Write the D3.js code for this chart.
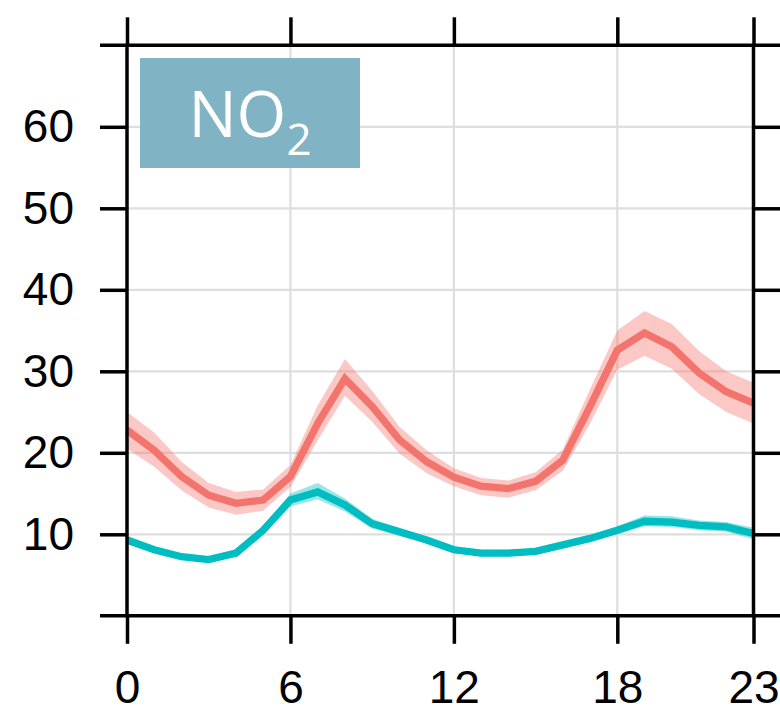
<!DOCTYPE html>
<html>
<head>
<meta charset="utf-8">
<script src="https://cdn.jsdelivr.net/npm/d3@7"></script>
<style>
  body { margin: 0; background: #fff; }
</style>
</head>
<body>
<div id="chart"></div>
<script>
// hours of the day
var hours = d3.range(0, 24);

// red series: mean and ribbon (lower / upper)
var redMean  = [22.8, 20.3, 17.1, 14.8, 13.8, 14.2, 17.1, 23.6, 29.1, 25.7, 21.6, 18.9,
                17.0, 15.9, 15.6, 16.5, 19.1, 25.7, 32.6, 34.7, 33.0, 29.8, 27.5, 26.1];
var redLow   = [20.5, 18.3, 15.4, 13.3, 12.4, 12.9, 15.8, 21.5, 27.0, 23.8, 19.9, 17.5,
                15.9, 14.8, 14.5, 15.4, 17.8, 23.6, 30.2, 31.9, 30.3, 27.2, 25.0, 23.6];
var redHigh  = [25.0, 22.5, 18.9, 16.3, 15.2, 15.5, 18.5, 25.8, 31.5, 27.6, 23.2, 20.3,
                18.1, 16.9, 16.6, 17.6, 20.4, 27.8, 35.0, 37.4, 35.8, 32.5, 30.0, 28.6];

// teal series: mean and ribbon (lower / upper)
var tealMean = [9.3, 8.1, 7.25, 6.9, 7.7, 10.5, 14.2, 15.2, 13.6, 11.3, 10.3, 9.3,
                8.1, 7.7, 7.7, 7.9, 8.7, 9.5, 10.5, 11.6, 11.5, 11.1, 10.9, 10.1];
var tealLow  = [8.8, 7.7, 6.9, 6.5, 7.3, 10.0, 13.4, 14.3, 12.8, 10.7, 9.8, 8.9,
                7.7, 7.3, 7.3, 7.5, 8.3, 9.1, 10.0, 11.0, 10.9, 10.5, 10.3, 9.4];
var tealHigh = [9.8, 8.5, 7.6, 7.3, 8.1, 11.0, 15.0, 16.3, 14.4, 11.9, 10.8, 9.7,
                8.5, 8.1, 8.1, 8.3, 9.1, 9.9, 11.0, 12.3, 12.2, 11.7, 11.5, 10.8];

var xTicks = [0, 6, 12, 18, 23];
var yTicks = [10, 20, 30, 40, 50, 60];
var gridX = [6, 12, 18];

var svgWidth = 780;
var svgHeight = 710;

var svg = d3.select("#chart")
    .append("svg")
    .attr("width", svgWidth)
    .attr("height", svgHeight);

svg.append("rect").attr("width", svgWidth).attr("height", svgHeight).attr("fill", "#fff");

var x = d3.scaleLinear().domain([0, 23]).range([127, 753.5]);
var y = d3.scaleLinear().domain([0, 70]).range([615.8, 45.3]);

// gridlines
svg.append("g").selectAll("line")
    .data(yTicks)
    .enter()
    .append("line")
    .attr("x1", x(0)).attr("x2", x(23))
    .attr("y1", d => y(d)).attr("y2", d => y(d))
    .attr("stroke", "#dedede").attr("stroke-width", 2.2);

svg.append("g").selectAll("line")
    .data(gridX)
    .enter()
    .append("line")
    .attr("x1", d => x(d)).attr("x2", d => x(d))
    .attr("y1", y(70)).attr("y2", y(0))
    .attr("stroke", "#dedede").attr("stroke-width", 2.2);

// ribbons and lines
var area = d3.area()
    .x(d => x(d.h))
    .y0(d => y(d.lo))
    .y1(d => y(d.hi));

var line = d3.line()
    .x(d => x(d.h))
    .y(d => y(d.v));

function series(mean, lo, hi) {
    return hours.map((h, i) => ({ h: h, v: mean[i], lo: lo[i], hi: hi[i] }));
}

var red = series(redMean, redLow, redHigh);
var teal = series(tealMean, tealLow, tealHigh);

svg.append("path").datum(red).attr("d", area)
    .attr("fill", "#F8766D").attr("fill-opacity", 0.4);
svg.append("path").datum(teal).attr("d", area)
    .attr("fill", "#00BFC4").attr("fill-opacity", 0.4);

svg.append("path").datum(red).attr("d", line)
    .attr("fill", "none").attr("stroke", "#F3746C").attr("stroke-width", 7.3)
    .attr("stroke-linejoin", "miter");
svg.append("path").datum(teal).attr("d", line)
    .attr("fill", "none").attr("stroke", "#00BDC2").attr("stroke-width", 7.3)
    .attr("stroke-linejoin", "miter");

// frame
var frame = svg.append("g").attr("stroke", "#000").attr("stroke-width", 3.5);
frame.append("line").attr("x1", 100).attr("x2", 780).attr("y1", y(70)).attr("y2", y(70));
frame.append("line").attr("x1", 100).attr("x2", 780).attr("y1", y(0)).attr("y2", y(0));
frame.append("line").attr("x1", x(0)).attr("x2", x(0)).attr("y1", y(70)).attr("y2", y(0));
frame.append("line").attr("x1", x(23)).attr("x2", x(23)).attr("y1", y(70)).attr("y2", y(0));

// axes (ticks + labels)
function styleAxis(g) {
    g.select(".domain").remove();
    g.selectAll(".tick line").attr("stroke", "#000").attr("stroke-width", 3.5);
    g.selectAll(".tick text")
        .style("font-family", "'Liberation Sans', Arial, Helvetica, sans-serif")
        .style("font-size", "46px")
        .attr("fill", "#000");
}

svg.append("g")
    .attr("transform", `translate(0, ${y(0)})`)
    .call(d3.axisBottom(x).tickValues(xTicks).tickSizeInner(28).tickSizeOuter(0).tickPadding(27))
    .call(styleAxis);

svg.append("g")
    .attr("transform", `translate(0, ${y(70)})`)
    .call(d3.axisTop(x).tickValues(xTicks).tickSizeInner(28).tickSizeOuter(0).tickFormat(""))
    .call(styleAxis);

svg.append("g")
    .attr("transform", `translate(${x(0)}, 0)`)
    .call(d3.axisLeft(y).tickValues(yTicks).tickSizeInner(27).tickSizeOuter(0).tickPadding(26))
    .call(styleAxis);

svg.append("g")
    .attr("transform", `translate(${x(23)}, 0)`)
    .call(d3.axisRight(y).tickValues(yTicks).tickSizeInner(27).tickSizeOuter(0).tickFormat(""))
    .call(styleAxis);

// NO2 label box
svg.append("rect")
    .attr("x", 140).attr("y", 58)
    .attr("width", 220).attr("height", 110)
    .attr("fill", "#80B3C4");

var label = svg.append("text")
    .attr("x", 250).attr("y", 137)
    .attr("text-anchor", "middle")
    .attr("font-family", "'Open Sans', 'Noto Sans', sans-serif")
    .attr("font-size", 64)
    .attr("fill", "#fff");
label.append("tspan").text("NO");
label.append("tspan").attr("font-size", 44).attr("dy", 18).text("2");
</script>
</body>
</html>
